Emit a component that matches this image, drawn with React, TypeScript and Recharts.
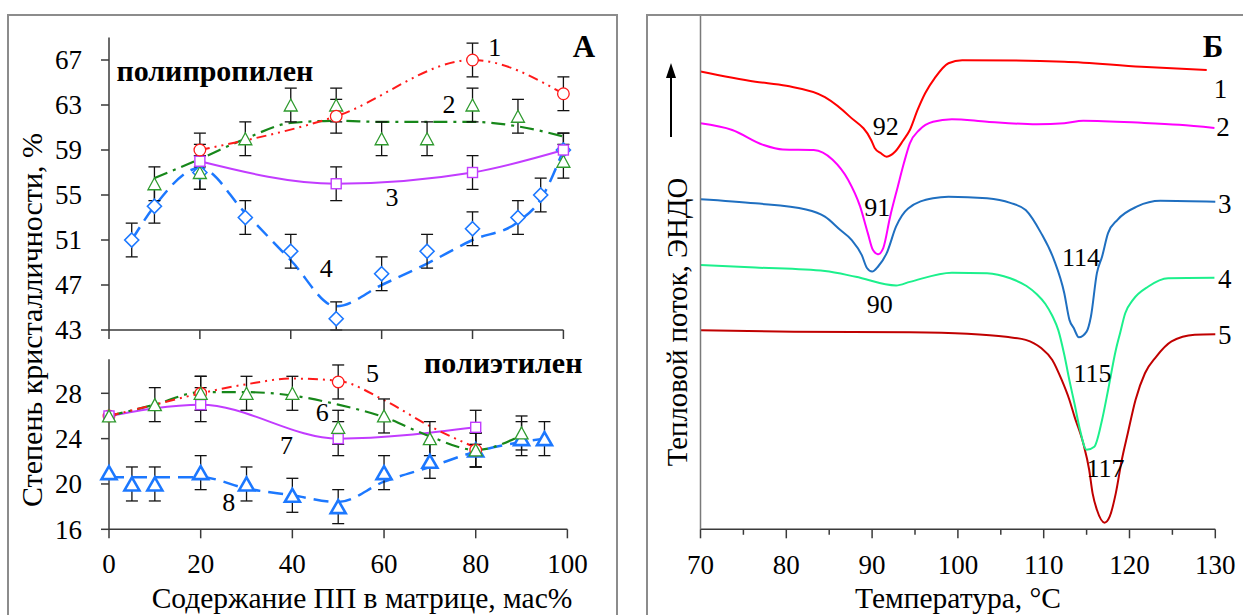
import React from 'react';
import { ComposedChart, Line, Scatter, XAxis, YAxis, ErrorBar, ReferenceDot } from 'recharts';

const FONT = '"Liberation Serif", "Times New Roman", serif';
const AXIS = '#3a3a3a';
const FRAME = '#8c8c8c';

type Err = number | [number, number];

// ---------- Panel A, upper block: polypropylene matrix ----------
const ppTicks = [43, 47, 51, 55, 59, 63, 67];
const xTicks = [0, 20, 40, 60, 80, 100];

const pp1X = [20, 50, 80, 100];
const pp1Y = [59, 62, 67, 64];

const pp2X = [10, 20, 30, 40, 50, 60, 70, 80, 90, 100];
const pp2Y = [56, 57, 60, 63, 63, 60, 60, 63, 62, 58];
const pp2TrendX = [10, 20, 30, 40, 50, 60, 70, 80, 90, 100];
const pp2TrendY = [56.5, 58.2, 60.0, 61.4, 61.6, 61.5, 61.5, 61.5, 61.1, 60.2];

const pp3X = [20, 50, 80, 100];
const pp3Y = [58, 56, 57, 59];

const pp4X = [5, 10, 20, 30, 40, 50, 60, 70, 80, 90, 95, 100];
const pp4Y = [51, 54, 57, 53, 50, 44, 48, 50, 52, 53, 55, 59];
// the lower whisker at 50 % stops at the axis floor (43)
const pp4Err: Err[] = [1.5, 1.5, 1.5, 1.5, 1.5, [1.0, 1.5], 1.5, 1.5, 1.5, 1.5, 1.5, 1.5];
const pp4TrendX = [5, 10, 20, 30, 40, 50, 60, 70, 80, 90, 95, 100];
const pp4TrendY = [51, 54, 57.4, 53.4, 49.2, 45.1, 47.0, 48.9, 51.0, 52.6, 54.6, 59];

const ppErr = 1.5;

// ---------- Panel A, lower block: polyethylene matrix ----------
const peTicks = [16, 20, 24, 28];

const pe5X = [0, 20, 50, 80];
const pe5Y = [26, 28, 29, 23];
const pe5Err = [0, 1.5, 1.5, 1.5];
const pe5TrendX = [0, 10, 20, 30, 40, 50, 60, 70, 80];
const pe5TrendY = [26, 27, 28, 28.8, 29.3, 29.1, 27.4, 25.1, 23.2];

const pe6X = [0, 10, 20, 30, 40, 50, 60, 70, 80, 90];
const pe6Y = [26, 27, 28, 28, 28, 25, 26, 24, 23, 24.5];
const pe6Err = [0, 1.5, 1.5, 1.5, 1.5, 1.5, 1.5, 1.5, 1.5, 1.5];
const pe6TrendX = [0, 10, 20, 30, 40, 50, 60, 70, 80, 90];
const pe6TrendY = [26, 27, 28.1, 28.1, 27.8, 27, 25.9, 24.2, 23, 24.3];

const pe7X = [0, 20, 50, 80];
const pe7Y = [26, 27, 24, 25];
const pe7Err = [0, 1.5, 1.5, 1.5];

const pe8X = [0, 5, 10, 20, 30, 40, 50, 60, 70, 80, 90, 95];
const pe8Y = [21, 20, 20, 21, 20, 19, 18, 21, 22, 23, 24, 24];
const pe8Err = [0, 1.5, 1.5, 1.5, 1.5, 1.5, 1.5, 1.5, 1.5, 1.5, 1.5, 1.5];
const pe8TrendX = [0, 5, 10, 20, 30, 40, 50, 60, 70, 80, 90, 95];
const pe8TrendY = [20.6, 20.6, 20.6, 20.6, 19.6, 19.0, 18.4, 20.2, 21.5, 22.85, 23.7, 24.0];

// ---------- Panel Б: DSC melting curves (temperature °C, heat flow arb. units) ----------
const dscTicks = [70, 75, 80, 85, 90, 95, 100, 105, 110, 115, 120, 125, 130];

const dsc1: [number, number][] = [
  [70, 89.2], [76.4, 87.2], [80, 86.4], [84.5, 84.2], [87.4, 80.4], [89.9, 75.8], [90.3, 74.3],
  [91, 73.3], [91.7, 72.6], [92.7, 73.6], [93.6, 75.7], [94.4, 77.8], [95.3, 81.7], [96.2, 85.0],
  [97.3, 87.9], [98.9, 90.8], [100.5, 91.4], [112.4, 91.1], [121.4, 90.1], [129, 89.5],
];
const dsc2: [number, number][] = [
  [70, 79.1], [73.7, 77.8], [77.3, 74.9], [79.6, 74.0], [83.2, 73.9], [85.4, 72.0], [87.2, 68.1],
  [88.6, 62.9], [89.5, 57.7], [90.1, 54.4], [90.7, 53.6], [91.3, 54.8], [92.1, 60.9], [93, 66.8],
  [93.7, 71.3], [94.4, 75.2], [95.5, 77.8], [97.1, 79.4], [99.3, 79.9], [103.4, 79.4], [109.2, 78.9],
  [112.4, 79.1], [114.6, 79.6], [121.4, 79.2], [125.8, 78.8], [129.9, 78.2],
];
const dsc3: [number, number][] = [
  [70, 64.3], [76.4, 63.5], [82.3, 62.3], [84.5, 60.9], [86.3, 58.3], [87.6, 56.4], [88.8, 53.4],
  [89.4, 50.9], [90, 50.2], [90.7, 51.2], [91.7, 53.8], [92.8, 59.0], [94.2, 62.5], [97.1, 64.5],
  [98.9, 64.8], [103.4, 64.5], [106.1, 63.6], [107.9, 62.2], [109.7, 57.7], [111.2, 52.5],
  [112.4, 46.0], [113, 40.8], [113.5, 39.2], [114.1, 37.4], [115, 38.5], [115.5, 41.4],
  [116.2, 49.9], [116.8, 53.1], [117.5, 57.7], [118.6, 60.3], [120.9, 62.9], [123.6, 64.0], [130, 63.8],
];
const dsc4: [number, number][] = [
  [70, 51.5], [76.4, 51.0], [84.5, 50.3], [88.1, 49.2], [92.8, 47.5], [94.4, 48.2], [99.3, 50.0],
  [103.4, 49.9], [106.1, 48.9], [108, 47.4], [109.2, 45.8], [110.2, 43.9], [111, 41.6], [111.7, 38.8],
  [112.4, 34.0], [113, 29.0], [113.6, 24.4], [114.2, 19.6], [115, 15.5], [115.9, 16.1], [116.8, 21.3],
  [117.5, 27.1], [118.4, 34.9], [118.9, 38.2], [119.5, 42.1], [120.4, 44.7], [122.2, 47.3],
  [124.5, 48.9], [129.9, 49.0],
];
const dsc5: [number, number][] = [
  [70, 38.8], [80.9, 38.5], [94.4, 38.4], [101.1, 38.1], [105.6, 37.5], [107.9, 36.9], [109.7, 35.3],
  [111, 33.0], [112.1, 29.1], [113, 25.2], [113.6, 21.9], [114.6, 16.8], [115.3, 11.6], [115.7, 7.0],
  [116.2, 3.8], [117.1, 1.3], [117.7, 2.5], [118.4, 7.0], [119.1, 13.5], [119.8, 18.7], [120.7, 25.2],
  [121.8, 30.4], [123.1, 33.6], [124.9, 36.6], [127.6, 37.9], [130, 38.0],
];

const peakLabels: { t: number; q: number; text: string }[] = [
  { t: 91.6, q: 78.6, text: '92' },
  { t: 90.6, q: 62.9, text: '91' },
  { t: 90.9, q: 44.0, text: '90' },
  { t: 114.35, q: 53.0, text: '114' },
  { t: 115.7, q: 30.4, text: '115' },
  { t: 117.2, q: 11.9, text: '117' },
];
const curveNames: { t: number; q: number; text: string }[] = [
  { t: 130.6, q: 85.9, text: '1' },
  { t: 130.9, q: 78.4, text: '2' },
  { t: 131.1, q: 63.5, text: '3' },
  { t: 131.1, q: 48.9, text: '4' },
  { t: 131.1, q: 37.9, text: '5' },
];

// ---------- helpers ----------
const pts = (xs: number[], ys: number[], errs?: Err[] | number) =>
  xs.map((x, i) => ({ x, y: ys[i], err: Array.isArray(errs) ? errs[i] : errs ?? 0 }));
const pairs = (p: [number, number][]) => p.map(([x, y]) => ({ x, y }));

const RED = '#ff1a1a';
const GREEN_LINE = '#17871a';
const GREEN = '#2e9a2e';
const VIOLET = '#c23cff';
const BLUE = '#1c78ff';

const circleMark = (color: string, r: number, sw: number) => (p: any) => (
  <circle cx={p.cx} cy={p.cy} r={r} fill="#fff" stroke={color} strokeWidth={sw} />
);
const squareMark = (color: string, s: number, sw: number) => (p: any) => (
  <rect x={p.cx - s / 2} y={p.cy - s / 2} width={s} height={s} fill="#fff" stroke={color} strokeWidth={sw} />
);
const diamondMark = (color: string, s: number, sw: number) => (p: any) => (
  <path
    d={`M${p.cx},${p.cy - s / 2}L${p.cx + s / 2},${p.cy}L${p.cx},${p.cy + s / 2}L${p.cx - s / 2},${p.cy}Z`}
    fill="#fff" stroke={color} strokeWidth={sw}
  />
);
const triangleMark = (color: string, w: number, h: number, sw: number) => (p: any) => (
  <path
    d={`M${p.cx},${p.cy - h / 2}L${p.cx + w / 2},${p.cy + h / 2}L${p.cx - w / 2},${p.cy + h / 2}Z`}
    fill="#fff" stroke={color} strokeWidth={sw} strokeLinejoin="miter"
  />
);

const LeftTick = (p: any) => (
  <g>
    <line x1={p.x - 8} x2={p.x} y1={p.y} y2={p.y} stroke={AXIS} strokeWidth={1.5} />
    <text x={p.x - 27} y={p.y} dy="0.35em" textAnchor="end" fontFamily={FONT} fontSize={27} fill="#000">
      {p.payload.value}
    </text>
  </g>
);
const BottomTick = (showLabel: boolean) => (p: any) => (
  <g>
    <line x1={p.x} x2={p.x} y1={p.y} y2={p.y + 9} stroke={AXIS} strokeWidth={1.5} />
    {showLabel && (
      <text x={p.x} y={p.y + 44} textAnchor="middle" fontFamily={FONT} fontSize={27} fill="#000">
        {p.payload.value}
      </text>
    )}
  </g>
);
const DscTick = (p: any) => {
  const major = p.payload.value % 10 === 0;
  return (
    <g>
      <line x1={p.x} x2={p.x} y1={p.y} y2={p.y + (major ? 9 : 5.5)} stroke={AXIS} strokeWidth={1.5} />
      {major && (
        <text x={p.x} y={p.y + 45} textAnchor="middle" fontFamily={FONT} fontSize={27} fill="#000">
          {p.payload.value}
        </text>
      )}
    </g>
  );
};

const numLabel = (x: number, y: number, text: string, size = 26, bold = false) => (
  <ReferenceDot
    key={`${text}-${x}-${y}`}
    x={x}
    y={y}
    r={0}
    fill="none"
    stroke="none"
    ifOverflow="visible"
    label={{ value: text, position: 'center', fontFamily: FONT, fontSize: size, fontWeight: bold ? 700 : 400, fill: '#000' }}
  />
);

const errBar = <ErrorBar dataKey="err" direction="y" width={6} stroke="#111" strokeWidth={1.3} />;

const lineCommon = { dot: false, activeDot: false, isAnimationActive: false, dataKey: 'y', type: 'monotone' as const };

export default function App() {
  return (
    <div style={{ position: 'absolute', left: 0, top: 0, width: 1243, height: 615, background: '#fff', overflow: 'hidden' }}>
      {/* polypropylene block */}
      <div style={{ position: 'absolute', left: 0, top: 0 }}>
        <ComposedChart width={620} height={345} margin={{ top: 37.5, right: 56.6, bottom: 0, left: 49 }}>
          <XAxis type="number" dataKey="x" domain={[0, 100]} ticks={xTicks} interval={0} height={15}
            tickSize={0} tickMargin={0} tickLine={false} tick={BottomTick(false)}
            axisLine={{ stroke: AXIS, strokeWidth: 1.5 }} />
          <YAxis type="number" dataKey="y" domain={[43, 69]} ticks={ppTicks} interval={0} width={60}
            tickSize={0} tickMargin={0} tickLine={false} tick={LeftTick}
            axisLine={{ stroke: AXIS, strokeWidth: 1.5 }} />
          <Line {...lineCommon} data={pts(pp4TrendX, pp4TrendY)} stroke={BLUE} strokeWidth={2.5} strokeDasharray="15 8" />
          <Line {...lineCommon} data={pts(pp3X, pp3Y)} stroke={VIOLET} strokeWidth={2} />
          <Line {...lineCommon} data={pts(pp2TrendX, pp2TrendY)} stroke={GREEN_LINE} strokeWidth={2.2} strokeDasharray="14 6 3 6" />
          <Line {...lineCommon} data={pts(pp1X, pp1Y)} stroke={RED} strokeWidth={2} strokeDasharray="10 5 2 5 2 5" />
          <Scatter data={pts(pp4X, pp4Y, pp4Err)} shape={diamondMark(BLUE, 14, 1.6)} isAnimationActive={false}>{errBar}</Scatter>
          <Scatter data={pts(pp2X, pp2Y, ppErr)} shape={triangleMark(GREEN, 13, 12, 1.3)} isAnimationActive={false}>{errBar}</Scatter>
          <Scatter data={pts(pp3X, pp3Y, ppErr)} shape={squareMark(VIOLET, 10, 1.4)} isAnimationActive={false}>{errBar}</Scatter>
          <Scatter data={pts(pp1X, pp1Y, ppErr)} shape={circleMark(RED, 5.8, 1.3)} isAnimationActive={false}>{errBar}</Scatter>
          {numLabel(84.9, 68.2, '1')}
          {numLabel(74.8, 63.15, '2')}
          {numLabel(62.3, 54.85, '3')}
          {numLabel(47.8, 48.5, '4')}
          {numLabel(23.3, 66.1, 'полипропилен', 30, true)}
        </ComposedChart>
      </div>

      {/* polyethylene block */}
      <div style={{ position: 'absolute', left: 0, top: 340 }}>
        <ComposedChart width={620} height={275} margin={{ top: 19.3, right: 52.6, bottom: 0, left: 49 }}>
          <XAxis type="number" dataKey="x" domain={[0, 100]} ticks={xTicks} interval={0} height={85.7}
            tickSize={0} tickMargin={0} tickLine={false} tick={BottomTick(true)}
            axisLine={{ stroke: AXIS, strokeWidth: 1.5 }} />
          <YAxis type="number" dataKey="y" domain={[16, 31]} ticks={peTicks} interval={0} width={60}
            tickSize={0} tickMargin={0} tickLine={false} tick={LeftTick}
            axisLine={{ stroke: AXIS, strokeWidth: 1.5 }} />
          <Line {...lineCommon} data={pts(pe8TrendX, pe8TrendY)} stroke={BLUE} strokeWidth={2.5} strokeDasharray="15 8" />
          <Line {...lineCommon} data={pts(pe7X, pe7Y)} stroke={VIOLET} strokeWidth={2} />
          <Line {...lineCommon} data={pts(pe6TrendX, pe6TrendY)} stroke={GREEN_LINE} strokeWidth={2.2} strokeDasharray="14 6 3 6" />
          <Line {...lineCommon} data={pts(pe5TrendX, pe5TrendY)} stroke={RED} strokeWidth={2} strokeDasharray="10 5 2 5 2 5" />
          <Scatter data={pts(pe8X, pe8Y, pe8Err)} shape={triangleMark(BLUE, 15, 13, 2.6)} isAnimationActive={false}>{errBar}</Scatter>
          <Scatter data={pts(pe5X, pe5Y, pe5Err)} shape={circleMark(RED, 5.8, 1.3)} isAnimationActive={false}>{errBar}</Scatter>
          <Scatter data={pts(pe7X, pe7Y, pe7Err)} shape={squareMark(VIOLET, 10, 1.4)} isAnimationActive={false}>{errBar}</Scatter>
          <Scatter data={pts(pe6X, pe6Y, pe6Err)} shape={triangleMark(GREEN, 13, 12, 1.3)} isAnimationActive={false}>{errBar}</Scatter>
          {numLabel(57.5, 29.77, '5')}
          {numLabel(46.5, 26.38, '6')}
          {numLabel(38.7, 23.44, '7')}
          {numLabel(26.1, 18.44, '8')}
          {numLabel(86, 30.77, 'полиэтилен', 30, true)}
        </ComposedChart>
      </div>

      {/* DSC block */}
      <div style={{ position: 'absolute', left: 640, top: 0 }}>
        <ComposedChart width={603} height={615} margin={{ top: 16, right: 27.7, bottom: 0, left: 0 }}>
          <XAxis type="number" dataKey="x" domain={[70, 130]} ticks={dscTicks} interval={0} height={85.7}
            tickSize={0} tickMargin={0} tickLine={false} tick={DscTick}
            axisLine={{ stroke: AXIS, strokeWidth: 1.5 }} />
          <YAxis type="number" dataKey="y" domain={[0, 100]} width={60.5} tick={false} tickLine={false}
            axisLine={{ stroke: '#7a7a7a', strokeWidth: 1.5 }} />
          <Line {...lineCommon} data={pairs(dsc5)} stroke="#c00000" strokeWidth={2} />
          <Line {...lineCommon} data={pairs(dsc4)} stroke="#1cf08c" strokeWidth={2} />
          <Line {...lineCommon} data={pairs(dsc3)} stroke="#1f6fc0" strokeWidth={2} />
          <Line {...lineCommon} data={pairs(dsc2)} stroke="#ff00ff" strokeWidth={2} />
          <Line {...lineCommon} data={pairs(dsc1)} stroke="#ff0000" strokeWidth={2} />
          {peakLabels.map((l) => numLabel(l.t, l.q, l.text, 26))}
          {curveNames.map((l) => numLabel(l.t, l.q, l.text, 27))}
        </ComposedChart>
      </div>

      {/* frames, titles, panel letters */}
      <svg width={1243} height={615} style={{ position: 'absolute', left: 0, top: 0, pointerEvents: 'none' }}>
        <rect x={8} y={15} width={609} height={640} fill="none" stroke={FRAME} strokeWidth={2} />
        <rect x={647} y={15} width={640} height={640} fill="none" stroke={FRAME} strokeWidth={2} />
        <text x={584} y={57} textAnchor="middle" fontFamily={FONT} fontSize={31} fontWeight={700}>А</text>
        <text x={1213} y={57} textAnchor="middle" fontFamily={FONT} fontSize={31} fontWeight={700}>Б</text>
        <text x={362} y={608} textAnchor="middle" fontFamily={FONT} fontSize={29.5}>Содержание ПП  в матрице, мас%</text>
        <text x={958} y={608} textAnchor="middle" fontFamily={FONT} fontSize={29.5}>Температура, °C</text>
        <text transform="translate(42,320) rotate(-90)" textAnchor="middle" fontFamily={FONT} fontSize={30}>
          Степень кристалличности, %
        </text>
        <text transform="translate(687,322) rotate(-90)" textAnchor="middle" fontFamily={FONT} fontSize={28.8}>
          Тепловой поток, ЭНДО
        </text>
        <line x1={671} y1={137} x2={671} y2={74} stroke="#000" strokeWidth={2} />
        <path d="M671,63 L666,78 L676,78 Z" fill="#000" />
      </svg>
    </div>
  );
}
